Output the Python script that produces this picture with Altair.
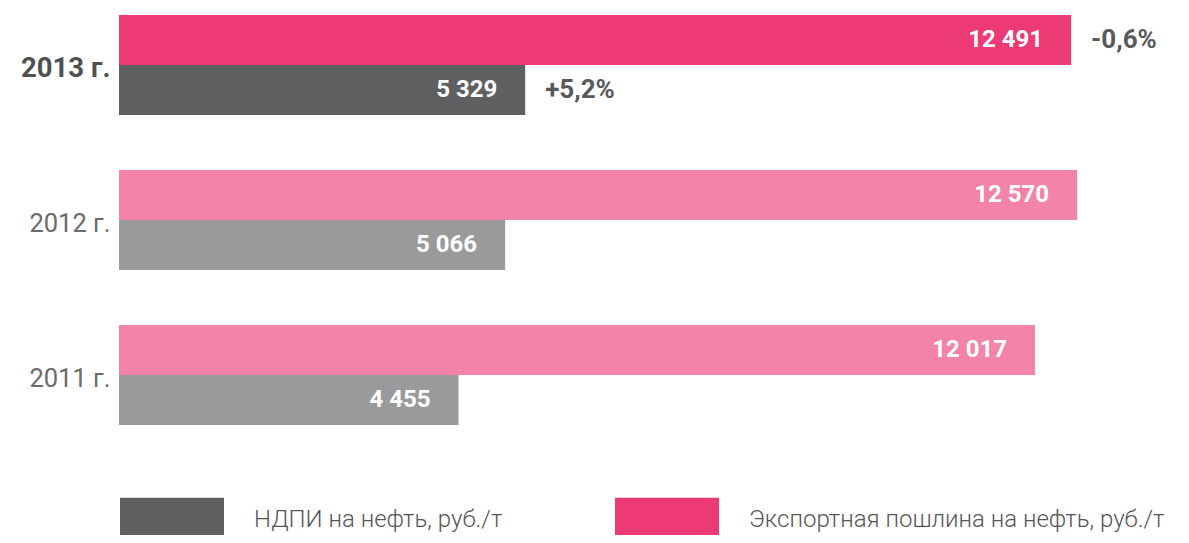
import altair as alt
import pandas as pd

years = ["2013 г.", "2012 г.", "2011 г."]
export_duty = [12491, 12570, 12017]
mineral_tax = [5329, 5066, 4455]
export_change = ["-0,6%", "", ""]
mineral_change = ["+5,2%", "", ""]
series_names = ["НДПИ на нефть, руб./т", "Экспортная пошлина на нефть, руб./т"]
series_colors = ["#5e5f61", "#ec3a74"]

rows = []
for i, yr in enumerate(years):
    rows.append(dict(year=yr, series=series_names[1], value=export_duty[i], change=export_change[i]))
    rows.append(dict(year=yr, series=series_names[0], value=mineral_tax[i], change=mineral_change[i]))
df = pd.DataFrame(rows)
df["label"] = df["value"].map(lambda v: f"{v:,}".replace(",", " "))

FONT = "Roboto"

y_enc = alt.Y(
    "year:N",
    sort=years,
    scale=alt.Scale(paddingInner=0.355, paddingOuter=0.045),
    axis=alt.Axis(
        title=None, domain=False, ticks=False, labelPadding=9, labelOffset=4,
        labelFont=FONT,
        labelFontSize={"condition": {"test": "datum.value == '2013 г.'", "value": 27.5}, "value": 25.5},
        labelFontWeight={"condition": {"test": "datum.value == '2013 г.'", "value": "bold"}, "value": "normal"},
        labelColor={"condition": {"test": "datum.value == '2013 г.'", "value": "#4f5052"}, "value": "#6a6a6a"},
    ),
)
yoff_enc = alt.YOffset(
    "series:N",
    sort=[series_names[1], series_names[0]],
    scale=alt.Scale(paddingInner=0, paddingOuter=0),
)
x_enc = alt.X("value:Q", scale=alt.Scale(domain=[0, 13500]), axis=None)

base = alt.Chart(df).encode(y=y_enc, yOffset=yoff_enc, x=x_enc)

bars = base.mark_bar().encode(
    color=alt.Color(
        "series:N",
        scale=alt.Scale(domain=series_names, range=series_colors),
        legend=alt.Legend(
            title=None, orient="none", legendX=1, legendY=460, direction="horizontal",
            symbolType="M-1,-0.433L1,-0.433L1,0.433L-1,0.433Z", symbolSize=10816,
            symbolStrokeWidth=0, symbolOpacity=1, labelOffset=30, columnPadding=112,
            labelFont=FONT, labelFontSize=24, labelFontWeight=300,
            labelColor="#555555", labelLimit=700, padding=0,
        ),
    ),
    opacity=alt.condition(alt.datum.year == "2013 г.", alt.value(1.0), alt.value(0.63)),
)

values = base.mark_text(
    align="right", baseline="middle", dx=-28, color="white",
    font=FONT, fontSize=24, fontWeight="bold",
).encode(text="label:N")

changes = base.transform_filter(alt.datum.change != "").mark_text(
    align="left", baseline="middle", dx=20, color="#58595b",
    font=FONT, fontSize=26, fontWeight="bold",
).encode(text="change:N")

chart = alt.layer(bars, values, changes).properties(
    width=1029, height=424,
    padding={"left": 111, "top": 0, "right": 33, "bottom": 103},
    autosize="none",
).configure_view(stroke=None)

chart.save("out.html", embed_options={"renderer": "svg", "actions": False})
